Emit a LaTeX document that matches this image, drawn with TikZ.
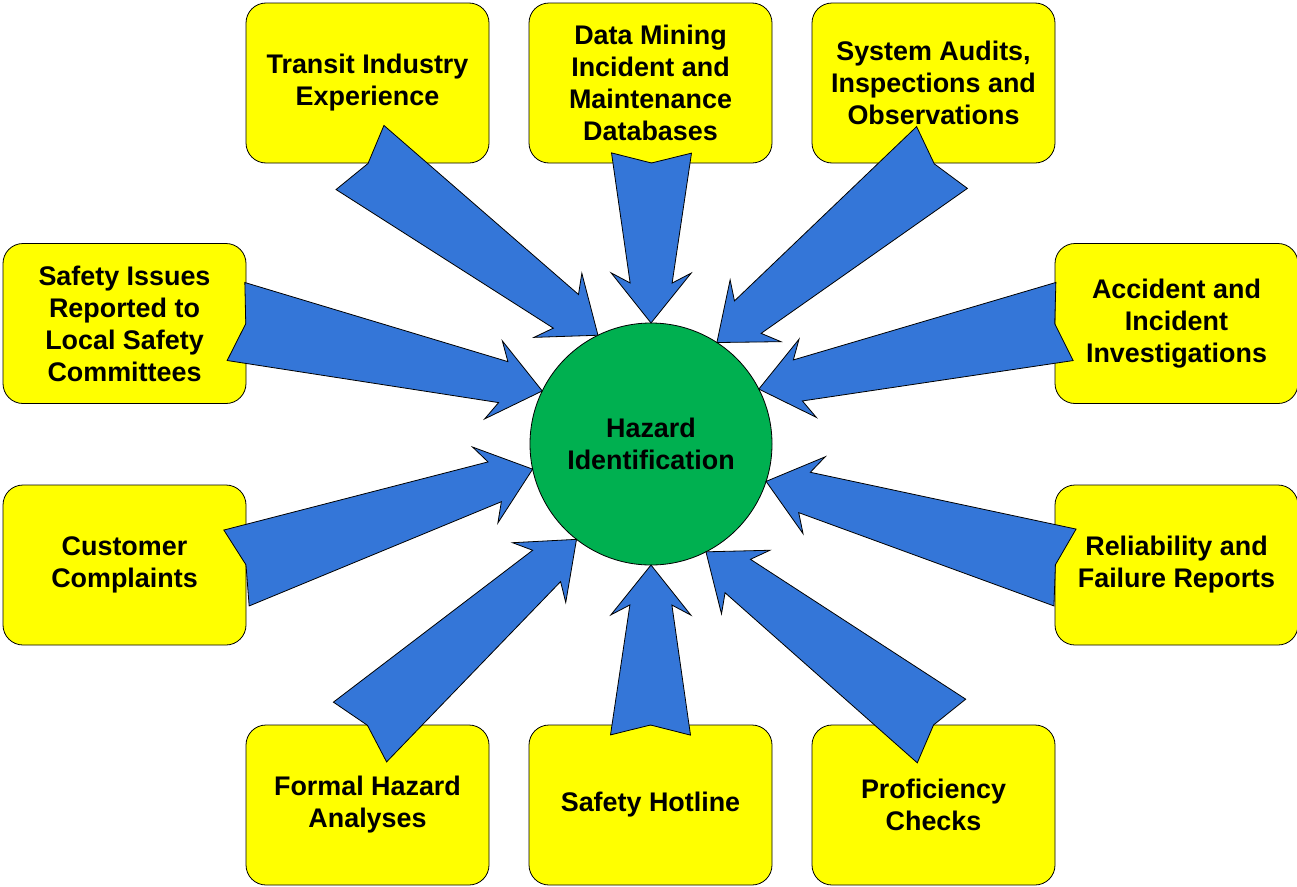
\documentclass[tikz,border=0pt]{standalone}
\usepackage{fontspec}
\setmainfont{Liberation Sans}
\usetikzlibrary{calc}

\definecolor{boxyellow}{RGB}{255,255,0}
\definecolor{hubgreen}{RGB}{0,176,80}
\definecolor{flowblue}{RGB}{52,118,216}

\newcommand{\labelfont}{\fontsize{26.9}{32}\selectfont\bfseries}

\tikzset{
  source/.style={draw=black, line width=0.8pt, fill=boxyellow, rounded corners=20pt,
    minimum width=243pt, minimum height=160pt, inner sep=0pt, outer sep=0pt,
    align=center, font=\labelfont},
  hub/.style={circle, draw=black, line width=0.8pt, fill=hubgreen, minimum size=242pt,
    inner sep=0pt, outer sep=0pt, align=center, font=\labelfont},
  feed/.style={draw=black, line width=0.8pt, fill=flowblue, line join=miter},
}

% Tapered block arrow with a notched tail: #1 = tail centre, #2 = tip
\newcommand{\feedarrow}[2]{%
  \coordinate (neck) at ($(#2)!40pt!(#1)$);
  \coordinate (barb) at ($(#2)!50pt!(#1)$);
  \path[feed] (#2)
    -- ($(barb)!40pt!90:(#1)$)
    -- ($(neck)!21pt!90:(#1)$)
    -- ($(#1)!40pt!-90:(#2)$)
    -- ($(#1)!10pt!(#2)$)
    -- ($(#1)!40pt!90:(#2)$)
    -- ($(neck)!21pt!-90:(#1)$)
    -- ($(barb)!40pt!-90:(#1)$)
    -- cycle;
}

\begin{document}
\begin{tikzpicture}[x=1pt,y=-1pt]
  \useasboundingbox (0,0) rectangle (1297,886);

  % sources of hazard information
  \node[source] (trans)  at (367.5,83)   {Transit Industry\\Experience};
  \node[source] (mine)   at (650.5,83)   {Data Mining\\Incident and\\Maintenance\\Databases};
  \node[source] (audit)  at (933.5,83)   {System Audits,\\Inspections and\\Observations};
  \node[source] (issues) at (124.5,323.5) {Safety Issues\\Reported to\\Local Safety\\Committees};
  \node[source] (accid)  at (1176.5,323.5) {Accident and\\Incident\\Investigations};
  \node[source] (cust)   at (124.5,565)  {Customer\\Complaints};
  \node[source] (rel)    at (1176.5,565) {Reliability and\\Failure Reports};
  \node[source] (formal) at (367.5,805)  {Formal Hazard\\Analyses};
  \node[source] (hot)    at (650.5,805)  {Safety Hotline};
  \node[source] (prof)   at (933.5,805)  {Proficiency\\Checks};

  % central process
  \node[hub] (hz) at (651,444) {Hazard\\Identification};

  % arrow tails at the boxes
  \coordinate (tTrans)  at (360,157.5);
  \coordinate (tMine)   at (651.5,153);
  \coordinate (tAudit)  at (942,157.5);
  \coordinate (tAccid)  at (1064.5,321.5);
  \coordinate (tRel)    at (1065,567.5);
  \coordinate (tProf)   at (941.5,731);
  \coordinate (tHot)    at (650.5,735);
  \coordinate (tFormal) at (360,732);
  \coordinate (tCust)   at (236.5,568);
  \coordinate (tIssues) at (236,321.5);

  % arrows into the hub
  \feedarrow{tTrans}{hz.116.6}
  \feedarrow{tMine}{hz.90}
  \feedarrow{tAudit}{hz.57.1}
  \feedarrow{tAccid}{hz.27.6}
  \feedarrow{tRel}{hz.-18.7}
  \feedarrow{tProf}{hz.-63.6}
  \feedarrow{tHot}{hz.-90}
  \feedarrow{tFormal}{hz.232.4}
  \feedarrow{tCust}{hz.192.8}
  \feedarrow{tIssues}{hz.154.7}
\end{tikzpicture}
\end{document}
